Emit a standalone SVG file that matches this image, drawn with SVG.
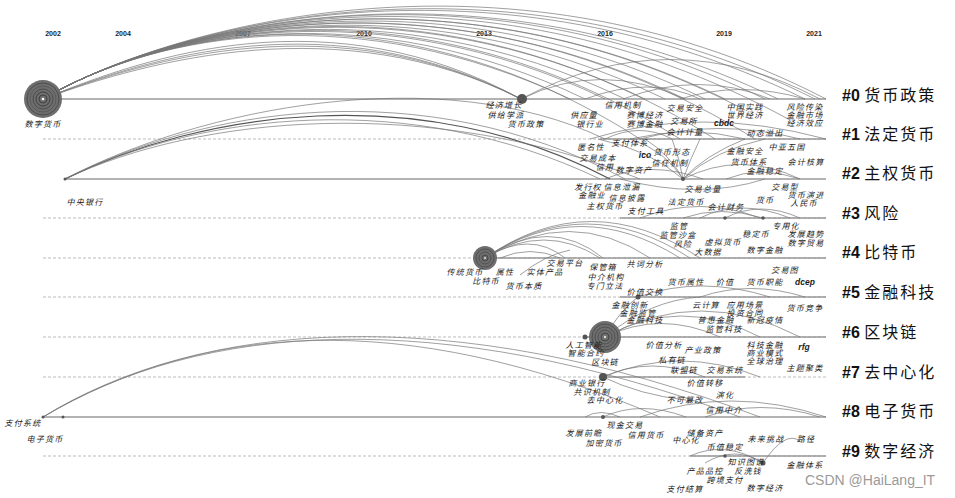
<svg xmlns="http://www.w3.org/2000/svg" width="955" height="498" viewBox="0 0 955 498">
<style>
.bg{fill:#fff}
.yr{font-family:"Liberation Sans",Arial,sans-serif;font-size:7px;font-weight:bold;fill:#222;text-anchor:middle}
.l{font-family:"Noto Sans CJK SC","Liberation Sans",sans-serif;font-size:8px;font-style:italic;letter-spacing:1.2px;fill:#1a1a1a;text-anchor:middle}
.le{font-family:"Liberation Sans",Arial,sans-serif;font-size:8.5px;font-style:italic;font-weight:bold;fill:#1a1a1a;text-anchor:middle}
.cl{font-family:"Noto Sans CJK SC","Liberation Sans",sans-serif;font-size:16px;letter-spacing:2px;fill:#111}
.cl tspan.h{font-family:"Liberation Sans",Arial,sans-serif;font-weight:bold;letter-spacing:0}
.dash{stroke:#aaa;stroke-width:0.8;stroke-dasharray:3 2;fill:none}
.solid{stroke:#999;stroke-width:1.3;fill:none}
.a{fill:none;stroke:#777;stroke-width:0.7}
.ak{fill:none;stroke:#555;stroke-width:1.2}
.dot{fill:#555}
.wm{font-family:"Liberation Sans",Arial,sans-serif;font-size:14px;fill:#9a9a9a}
</style>
<rect class="bg" width="955" height="498"/>

<g id="years">
<text class="yr" x="53" y="36">2002</text>
<text class="yr" x="123" y="36">2004</text>
<text class="yr" x="243" y="36">2007</text>
<text class="yr" x="364" y="36">2010</text>
<text class="yr" x="484" y="36">2013</text>
<text class="yr" x="605" y="36">2016</text>
<text class="yr" x="724" y="36">2019</text>
<text class="yr" x="814" y="36">2021</text>
</g>

<g id="rows">
<line class="dash" x1="43" y1="139" x2="826" y2="139"/>
<line class="dash" x1="43" y1="218" x2="826" y2="218"/>
<line class="dash" x1="43" y1="258" x2="826" y2="258"/>
<line class="dash" x1="43" y1="297" x2="826" y2="297"/>
<line class="dash" x1="43" y1="337" x2="826" y2="337"/>
<line class="dash" x1="43" y1="377" x2="826" y2="377"/>
<line class="dash" x1="43" y1="456" x2="826" y2="456"/>
<line class="solid" x1="43" y1="99" x2="826" y2="99"/>
<line class="solid" x1="600" y1="139" x2="826" y2="139"/>
<line class="solid" x1="65" y1="179" x2="826" y2="179"/>
<line class="solid" x1="620" y1="218" x2="826" y2="218"/>
<line class="solid" x1="483" y1="258" x2="826" y2="258"/>
<line class="solid" x1="620" y1="297" x2="826" y2="297"/>
<line class="solid" x1="585" y1="337" x2="826" y2="337"/>
<line class="solid" x1="603" y1="377" x2="745" y2="377"/>
<line class="solid" x1="43" y1="417" x2="826" y2="417"/>
<line class="solid" x1="690" y1="456" x2="826" y2="456"/>
</g>

<g id="connectors">
<path class="a" d="M43,99 C160,30 500,-70 826,99"/>
<path class="a" d="M43,99 C160,30 490,-64 815,99"/>
<path class="a" d="M43,99 C160,30 480,-60 805,99"/>
<path class="a" d="M43,99 C160,30 470,-55 790,120"/>
<path class="a" d="M43,99 C160,30 465,-52 778,99"/>
<path class="a" d="M43,99 C160,30 460,-50 765,99"/>
<path class="a" d="M43,99 C160,30 455,-47 755,139"/>
<path class="a" d="M43,99 C160,30 450,-45 745,110"/>
<path class="a" d="M43,99 C160,30 440,-40 725,99"/>
<path class="a" d="M43,99 C160,30 435,-38 715,139"/>
<path class="a" d="M43,99 C160,30 430,-35 705,99"/>
<path class="a" d="M43,99 C160,30 420,-30 685,99"/>
<path class="a" d="M43,99 C160,30 415,-28 680,139"/>
<path class="a" d="M43,99 C160,30 410,-25 665,99"/>
<path class="a" d="M43,99 C160,30 400,-20 645,99"/>
<path class="a" d="M43,99 C160,30 395,-18 640,139"/>
<path class="a" d="M43,99 C160,30 390,-15 625,99"/>
<path class="a" d="M43,99 C160,30 380,-10 605,99"/>
<path class="a" d="M43,99 C160,30 370,-5 585,99"/>
<path class="a" d="M43,99 C160,30 360,0 570,99"/>
<path class="a" d="M43,99 C150,55 330,-5 521,99"/>
<path class="a" d="M43,99 C150,57 330,0 521,99"/>
<path class="a" d="M43,99 C150,58 335,4 521,99"/>
<path class="a" d="M43,99 C150,60 340,8 521,99"/>
<path class="ak" d="M65,179 C200,112 420,78 610,179"/>
<path class="a" d="M65,179 C200,110 420,70 625,179"/>
<path class="a" d="M65,179 C200,113 410,88 600,179"/>
<path class="a" d="M65,179 C200,115 430,95 640,179"/>
<path class="a" d="M65,179 C200,108 440,60 605,139"/>
<path class="a" d="M43,417 C200,320 450,300 760,417"/>
<path class="a" d="M43,417 C200,322 440,305 740,417"/>
<path class="a" d="M43,417 C200,325 400,305 660,417"/>
<path class="a" d="M521,99 Q670,20 820,99"/>
<path class="a" d="M521,99 Q600,60 685,99"/>
<path class="a" d="M585,99 Q650,75 700,99"/>
<path class="a" d="M623,99 Q700,70 770,99"/>
<path class="a" d="M680,99 Q740,80 805,99"/>
<path class="a" d="M590,139 Q700,105 826,139"/>
<path class="a" d="M640,139 Q720,118 800,139"/>
<path class="a" d="M605,139 Q640,122 672,139"/>
<path class="a" d="M630,139 Q690,125 745,139"/>
<path class="a" d="M598,139 Q650,150 683,179"/>
<path class="a" d="M630,139 Q665,150 683,179"/>
<path class="a" d="M645,139 Q670,155 683,179"/>
<path class="a" d="M672,139 Q680,160 683,179"/>
<path class="a" d="M700,139 Q690,160 683,179"/>
<path class="a" d="M745,139 Q705,155 683,179"/>
<path class="a" d="M765,139 Q715,150 683,179"/>
<path class="a" d="M605,179 Q650,160 703,179"/>
<path class="a" d="M683,179 Q740,150 800,179"/>
<path class="a" d="M726,179 Q760,165 800,179"/>
<path class="a" d="M620,179 Q700,200 765,179"/>
<path class="a" d="M640,218 Q700,195 760,218"/>
<path class="a" d="M700,218 Q740,198 790,218"/>
<path class="a" d="M725,218 Q760,200 800,218"/>
<path class="a" d="M683,218 Q720,205 763,218"/>
<path class="a" d="M485,258 Q590,185 700,258"/>
<path class="a" d="M485,258 Q585,190 690,258"/>
<path class="a" d="M485,258 Q580,195 680,258"/>
<path class="a" d="M485,258 Q570,205 650,258"/>
<path class="a" d="M485,258 Q550,215 603,258"/>
<path class="a" d="M485,258 Q545,222 600,258"/>
<path class="a" d="M485,258 Q530,230 565,258"/>
<path class="a" d="M500,258 Q530,245 560,258"/>
<path class="a" d="M520,275 Q545,255 570,250"/>
<path class="a" d="M638,297 Q700,275 770,297"/>
<path class="a" d="M700,297 Q750,280 805,297"/>
<path class="a" d="M605,337 Q700,285 800,337"/>
<path class="a" d="M605,337 Q680,295 760,337"/>
<path class="a" d="M605,337 Q660,310 720,337"/>
<path class="a" d="M605,337 Q620,310 638,297"/>
<path class="a" d="M605,337 Q650,300 700,297"/>
<path class="a" d="M603,377 Q650,355 705,377"/>
<path class="a" d="M603,377 Q680,345 760,377"/>
<path class="a" d="M603,377 Q640,395 686,400"/>
<path class="a" d="M603,417 Q640,400 686,417"/>
<path class="a" d="M640,417 Q730,385 826,417"/>
<path class="a" d="M705,417 Q760,398 820,417"/>
<path class="a" d="M585,417 Q600,408 620,417"/>
<path class="a" d="M690,456 Q725,440 763,463"/>
<path class="a" d="M705,463 Q735,445 763,463"/>
<path class="a" d="M763,463 Q785,430 800,441"/>
</g>

<g id="n-shuzihuobi">
<circle cx="43" cy="99" r="19" fill="#6e6e6e"/>
<circle cx="43" cy="99" r="16" fill="none" stroke="#444" stroke-width="0.8"/>
<circle cx="43" cy="99" r="13" fill="none" stroke="#555" stroke-width="0.8"/>
<circle cx="43" cy="99" r="10" fill="none" stroke="#444" stroke-width="0.8"/>
<circle cx="43" cy="99" r="7" fill="none" stroke="#333" stroke-width="0.8"/>
<circle cx="43" cy="99" r="4" fill="none" stroke="#333" stroke-width="0.8"/>
<circle cx="43" cy="99" r="1.3" fill="#fff"/>
<text class="l" x="43" y="127">数字货币</text>
</g>
<g id="n-bitcoin">
<circle cx="485" cy="258" r="12" fill="#6e6e6e"/>
<circle cx="485" cy="258" r="9" fill="none" stroke="#444" stroke-width="0.7"/>
<circle cx="485" cy="258" r="6" fill="none" stroke="#444" stroke-width="0.7"/>
<circle cx="485" cy="258" r="3" fill="none" stroke="#333" stroke-width="0.7"/>
<circle cx="485" cy="258" r="1" fill="#ddd"/>
<text class="l" x="465" y="275">传统货币</text>
<text class="l" x="486" y="284">比特币</text>
</g>
<g id="n-blockchain">
<circle cx="605" cy="337" r="16" fill="#6e6e6e"/>
<circle cx="605" cy="337" r="13" fill="none" stroke="#444" stroke-width="0.7"/>
<circle cx="605" cy="337" r="10" fill="none" stroke="#444" stroke-width="0.7"/>
<circle cx="605" cy="337" r="7" fill="none" stroke="#444" stroke-width="0.7"/>
<circle cx="605" cy="337" r="4" fill="none" stroke="#333" stroke-width="0.7"/>
<circle cx="605" cy="337" r="1.2" fill="#ddd"/>
<text class="l" x="605" y="365">区块链</text>
</g>
<g id="n-jingjizengzhang">
<circle cx="522" cy="99" r="5" fill="#555"/>
<text class="l" x="504" y="108">经济增长</text>
</g>
<g id="n-ai"><circle class="dot" cx="585" cy="337" r="2.5"/><text class="l" x="584" y="348">人工智能</text></g>
<g id="n-shangyeyinhang"><circle class="dot" cx="603" cy="377" r="4"/><text class="l" x="587" y="386">商业银行</text></g>
<g id="n-xianjin"><circle class="dot" cx="603" cy="417" r="2"/><text class="l" x="625" y="428">现金交易</text></g>
<g id="n-jiaoyizongliang"><circle class="dot" cx="683" cy="179" r="2"/><text class="l" x="703" y="192">交易总量</text></g>
<g id="n-zhongyangyinhang"><circle class="dot" cx="65" cy="179" r="1.5"/><text class="l" x="85" y="205">中央银行</text></g>
<g id="n-zhifuxitong"><circle class="dot" cx="43" cy="417" r="1.5"/><text class="l" x="23" y="426">支付系统</text></g>
<g id="n-dianzihuobi"><circle class="dot" cx="63" cy="417" r="1.5"/><text class="l" x="45" y="442">电子货币</text></g>
<g id="n-jiazhijiaohuan"><circle class="dot" cx="638" cy="297" r="2.5"/><text class="l" x="645" y="295">价值交换</text></g>
<g id="n-zhishitupu"><circle class="dot" cx="763" cy="463" r="2.5"/><text class="l" x="746" y="465">知识图谱</text></g>
<g id="n-dots"><circle class="dot" cx="725" cy="218" r="1.8"/><circle class="dot" cx="763" cy="218" r="1.8"/><circle class="dot" cx="725" cy="456" r="1.8"/></g>

<g id="row0-labels">
<g id="n0a"><text class="l" x="506" y="118">供给学派</text></g>
<g id="n0b"><text class="l" x="526" y="127">货币政策</text></g>
<g id="n0c"><text class="l" x="584" y="118">供应量</text></g>
<g id="n0d"><text class="l" x="590" y="127">银行业</text></g>
<g id="n0e"><text class="l" x="623" y="108">信用机制</text></g>
<g id="n0f"><text class="l" x="645" y="118">赛博经济</text></g>
<g id="n0g"><text class="l" x="645" y="127">赛博金融</text></g>
<g id="n0h"><text class="l" x="685" y="111">交易安全</text></g>
<g id="n0i"><text class="l" x="684" y="124">交易所</text></g>
<g id="n0j"><text class="le" x="724" y="126">cbdc</text></g>
<g id="n0k"><text class="l" x="745" y="110">中国实践</text></g>
<g id="n0l"><text class="l" x="745" y="118">世界经济</text></g>
<g id="n0m"><text class="l" x="805" y="110">风险传染</text></g>
<g id="n0n"><text class="l" x="805" y="118">金融市场</text></g>
<g id="n0o"><text class="l" x="805" y="126">经济效应</text></g>
</g>
<g id="row1-labels">
<g id="n1a"><text class="l" x="685" y="135">会计计量</text></g>
<g id="n1b"><text class="l" x="765" y="136">动态溢出</text></g>
<g id="n1c"><text class="l" x="630" y="146">支付体系</text></g>
<g id="n1d"><text class="l" x="591" y="150">匿名性</text></g>
<g id="n1e"><text class="l" x="787" y="150">中亚五国</text></g>
<g id="n1f"><text class="l" x="745" y="154">金融安全</text></g>
<g id="n1g"><text class="l" x="672" y="155">货币形态</text></g>
<g id="n1h"><text class="le" x="645" y="158">ico</text></g>
<g id="n1i"><text class="l" x="598" y="161">交易成本</text></g>
<g id="n1j"><text class="l" x="670" y="166">信任机制</text></g>
<g id="n1k"><text class="l" x="749" y="165">货币体系</text></g>
<g id="n1l"><text class="l" x="806" y="165">会计核算</text></g>
<g id="n1m"><text class="l" x="605" y="170">信用</text></g>
<g id="n1n"><text class="l" x="634" y="173">数字资产</text></g>
<g id="n1o"><text class="l" x="765" y="174">金融稳定</text></g>
</g>
<g id="row2-labels">
<g id="n2a"><text class="l" x="588" y="190">发行权</text></g>
<g id="n2b"><text class="l" x="622" y="190">信息泄漏</text></g>
<g id="n2c"><text class="l" x="785" y="190">交易型</text></g>
<g id="n2d"><text class="l" x="592" y="198">金融业</text></g>
<g id="n2e"><text class="l" x="627" y="201">信息披露</text></g>
<g id="n2f"><text class="l" x="806" y="198">货币演进</text></g>
<g id="n2g"><text class="l" x="686" y="205">法定货币</text></g>
<g id="n2h"><text class="l" x="765" y="203">货币</text></g>
<g id="n2i"><text class="l" x="804" y="206">人民币</text></g>
<g id="n2j"><text class="l" x="605" y="209">主权货币</text></g>
<g id="n2k"><text class="l" x="726" y="210">会计财务</text></g>
<g id="n2l"><text class="l" x="646" y="214">支付工具</text></g>
</g>
<g id="row3-labels">
<g id="n3a"><text class="l" x="679" y="229">监管</text></g>
<g id="n3b"><text class="l" x="786" y="229">专用化</text></g>
<g id="n3c"><text class="l" x="678" y="238">监管沙盒</text></g>
<g id="n3d"><text class="l" x="756" y="237">稳定币</text></g>
<g id="n3e"><text class="l" x="806" y="237">发展趋势</text></g>
<g id="n3f"><text class="l" x="683" y="247">风险</text></g>
<g id="n3g"><text class="l" x="723" y="245">虚拟货币</text></g>
<g id="n3h"><text class="l" x="806" y="246">数字贸易</text></g>
<g id="n3i"><text class="l" x="708" y="255">大数据</text></g>
<g id="n3j"><text class="l" x="765" y="253">数字金融</text></g>
</g>
<g id="row4-labels">
<g id="n4a"><text class="l" x="565" y="266">交易平台</text></g>
<g id="n4b"><text class="l" x="603" y="270">保管箱</text></g>
<g id="n4c"><text class="l" x="645" y="267">共词分析</text></g>
<g id="n4d"><text class="l" x="785" y="273">交易图</text></g>
<g id="n4e"><text class="l" x="505" y="275">属性</text></g>
<g id="n4f"><text class="l" x="545" y="275">实体产品</text></g>
<g id="n4g"><text class="l" x="606" y="280">中介机构</text></g>
<g id="n4h"><text class="l" x="524" y="289">货币本质</text></g>
<g id="n4i"><text class="l" x="605" y="289">专门立法</text></g>
<g id="n4j"><text class="l" x="686" y="285">货币属性</text></g>
<g id="n4k"><text class="l" x="725" y="285">价值</text></g>
<g id="n4l"><text class="l" x="765" y="285">货币职能</text></g>
<g id="n4m"><text class="le" x="805" y="285">dcep</text></g>
</g>
<g id="row5-labels">
<g id="n5a"><text class="l" x="630" y="308">金融创新</text></g>
<g id="n5b"><text class="l" x="706" y="308">云计算</text></g>
<g id="n5c"><text class="l" x="745" y="308">应用场景</text></g>
<g id="n5d"><text class="l" x="805" y="311">货币竞争</text></g>
<g id="n5e"><text class="l" x="638" y="316">金融监管</text></g>
<g id="n5f"><text class="l" x="745" y="316">投资合同</text></g>
<g id="n5g"><text class="l" x="645" y="323">金融科技</text></g>
<g id="n5h"><text class="l" x="716" y="323">普惠金融</text></g>
<g id="n5i"><text class="l" x="765" y="323">新冠疫情</text></g>
<g id="n5j"><text class="l" x="724" y="332">监管科技</text></g>
</g>
<g id="row6-labels">
<g id="n6a"><text class="l" x="664" y="348">价值分析</text></g>
<g id="n6b"><text class="l" x="765" y="348">科技金融</text></g>
<g id="n6c"><text class="le" x="804" y="350">rfg</text></g>
<g id="n6d"><text class="l" x="703" y="353">产业政策</text></g>
<g id="n6e"><text class="l" x="586" y="356">智能合约</text></g>
<g id="n6f"><text class="l" x="765" y="356">商业模式</text></g>
<g id="n6g"><text class="l" x="672" y="363">私有链</text></g>
<g id="n6h"><text class="l" x="765" y="364">全球治理</text></g>
<g id="n6i"><text class="l" x="805" y="371">主题聚类</text></g>
<g id="n6j"><text class="l" x="684" y="373">联盟链</text></g>
<g id="n6k"><text class="l" x="725" y="373">交易系统</text></g>
</g>
<g id="row7-labels">
<g id="n7a"><text class="l" x="705" y="386">价值转移</text></g>
<g id="n7b"><text class="l" x="592" y="395">共识机制</text></g>
<g id="n7c"><text class="l" x="725" y="398">演化</text></g>
<g id="n7d"><text class="l" x="685" y="403">不可篡改</text></g>
<g id="n7e"><text class="l" x="605" y="403">去中心化</text></g>
<g id="n7f"><text class="l" x="724" y="413">信用中介</text></g>
</g>
<g id="row8-labels">
<g id="n8a"><text class="l" x="584" y="436">发展前瞻</text></g>
<g id="n8b"><text class="l" x="705" y="436">储备资产</text></g>
<g id="n8c"><text class="l" x="646" y="438">信用货币</text></g>
<g id="n8d"><text class="l" x="686" y="443">中心化</text></g>
<g id="n8e"><text class="l" x="766" y="442">未来挑战</text></g>
<g id="n8f"><text class="l" x="806" y="442">路径</text></g>
<g id="n8g"><text class="l" x="604" y="446">加密货币</text></g>
<g id="n8h"><text class="l" x="725" y="450">币值稳定</text></g>
</g>
<g id="row9-labels">
<g id="n9a"><text class="l" x="805" y="468">金融体系</text></g>
<g id="n9b"><text class="l" x="705" y="474">产品品控</text></g>
<g id="n9c"><text class="l" x="748" y="474">反洗钱</text></g>
<g id="n9d"><text class="l" x="725" y="483">跨境支付</text></g>
<g id="n9e"><text class="l" x="765" y="491">数字经济</text></g>
<g id="n9f"><text class="l" x="685" y="492">支付结算</text></g>
</g>

<g id="clusters">
<text class="cl" x="842" y="101"><tspan class="h">#0 </tspan>货币政策</text>
<text class="cl" x="842" y="140"><tspan class="h">#1 </tspan>法定货币</text>
<text class="cl" x="842" y="179"><tspan class="h">#2 </tspan>主权货币</text>
<text class="cl" x="842" y="219"><tspan class="h">#3 </tspan>风险</text>
<text class="cl" x="842" y="258"><tspan class="h">#4 </tspan>比特币</text>
<text class="cl" x="842" y="298"><tspan class="h">#5 </tspan>金融科技</text>
<text class="cl" x="842" y="338"><tspan class="h">#6 </tspan>区块链</text>
<text class="cl" x="842" y="378"><tspan class="h">#7 </tspan>去中心化</text>
<text class="cl" x="842" y="417"><tspan class="h">#8 </tspan>电子货币</text>
<text class="cl" x="842" y="457"><tspan class="h">#9 </tspan>数字经济</text>
</g>
<text class="wm" x="805" y="485">CSDN @HaiLang_IT</text>
</svg>
